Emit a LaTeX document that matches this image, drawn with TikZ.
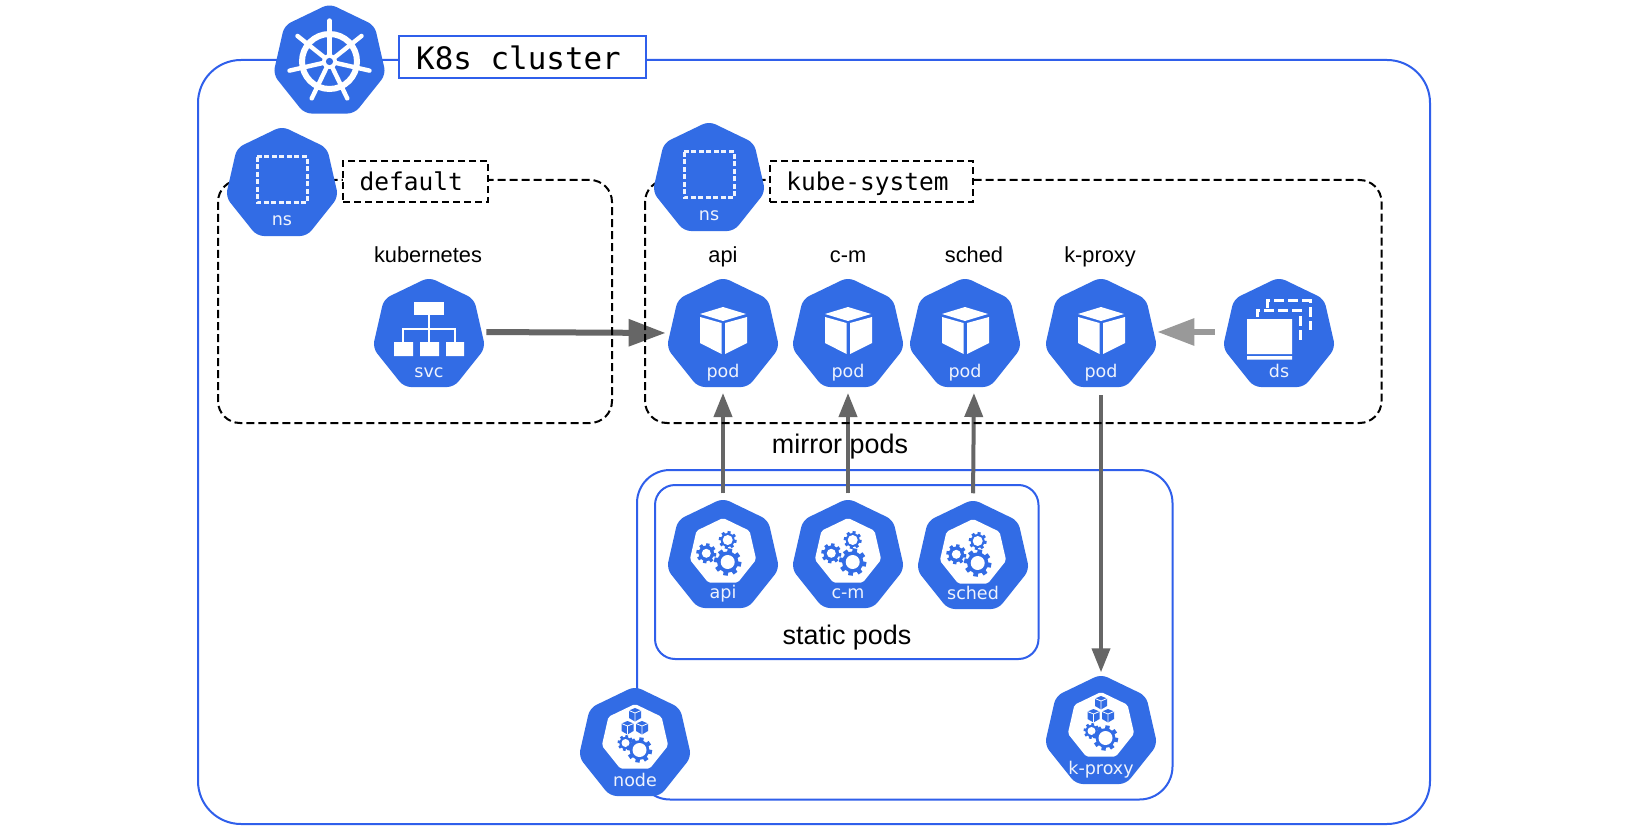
\documentclass[tikz,border=0pt]{standalone}
\usepackage{fontspec}
\usetikzlibrary{shapes.geometric,arrows.meta}
\newfontfamily\hexfont{DejaVu Sans}
\newfontfamily\boxfont{DejaVu Sans Mono}
\newfontfamily\capfont{Liberation Sans}
\definecolor{k8s}{HTML}{326CE5}
\definecolor{framecol}{HTML}{2F5FEB}
\definecolor{linkdark}{HTML}{666666}
\definecolor{linklight}{HTML}{999999}
\pgfdeclarelayer{frames}\pgfdeclarelayer{links}\pgfdeclarelayer{dashes}
\pgfsetlayers{frames,links,dashes,main}
\tikzset{
  hex/.style={regular polygon,regular polygon sides=7,minimum size=115.5pt,inner sep=0pt,outer sep=0pt,fill=k8s,rounded corners=7pt},
  hextext/.style={font=\hexfont\fontsize{17.5}{20}\selectfont,text=white!92!k8s,anchor=base,inner sep=0pt},
  frameline/.style={draw=framecol,line width=2pt},
  dashline/.style={draw=black,line width=2pt,dash pattern=on 8pt off 4pt},
  titlebox/.style={draw=framecol,line width=2pt,fill=white,minimum width=247pt,minimum height=42pt,inner sep=0pt,font=\boxfont\fontsize{30.9}{36}\selectfont},
  nsbox/.style={draw=black,line width=2pt,dash pattern=on 7pt off 4pt,fill=white,minimum height=41pt,inner sep=0pt,font=\boxfont\fontsize{24.5}{28}\selectfont},
  smallcap/.style={font=\capfont\fontsize{21.8}{24}\selectfont,inner sep=0pt,anchor=base},
  bigcap/.style={font=\capfont\fontsize{26.9}{30}\selectfont,inner sep=0pt,anchor=base},
  bigarrow/.style={line width=6pt,-{Triangle[length=37pt,width=26pt]}},
  midarrow/.style={draw=linkdark,line width=4pt,-{Triangle[length=24pt,width=18pt]}},
}
\newcommand{\kube}[5]{%
  \node[hex] (#1) at (#2,#3) {};
  \node[hextext] (#1t) at (#2,#3+42) {#4};
  \begin{scope}[shift={(#2,#3)}]#5\end{scope}}
\newcommand{\icpod}{%
  \fill[white] (0,-28)--(23,-21)--(0,-14)--(-23,-21)--cycle;
  \fill[white] (-23,-18)--(-1.5,-12)--(-1.5,19)--(-23,8)--cycle;
  \fill[white] (24,-18)--(2,-12)--(2,19)--(24,8)--cycle;}
\newcommand{\icns}{%
  \draw[white!92!k8s,line width=3pt,dash pattern=on 5pt off 2.5pt] (-25,-27) rectangle (25,19);}
\newcommand{\icsvc}{%
  \fill[white] (-15,-33) rectangle (15,-20);
  \draw[white,line width=2.5pt] (0,-20)--(0,7) (-26,7)--(-26,-6)--(26,-6)--(26,7);
  \fill[white] (-35,7) rectangle (-16,21) (-9,7) rectangle (10,21) (17,7) rectangle (35,21);}
\newcommand{\icds}{%
  \fill[white] (-32,-16) rectangle (13,19) (-32,21) rectangle (13,24.5);
  \draw[white,line width=3pt,dash pattern=on 10pt off 4pt] (-22,-18)--(-22,-25)--(21,-25)--(21,5);
  \draw[white,line width=3pt,dash pattern=on 10pt off 4pt] (-12,-27)--(-12,-34)--(31,-34)--(31,-5);}
\newcommand{\gearat}[4]{%
  \begin{scope}[shift={(#1,#2)}]
    \fill[k8s] (0,0) circle[radius=#3*0.82];
    \foreach \a in {0,45,...,315}{\draw[k8s,line width={#3*0.36pt}] (\a+10:#3*0.6)--(\a+10:#3*1.05);}
    \fill[white] (0,0) circle[radius=#4];
  \end{scope}}
\newcommand{\innerhex}[1]{%
  \fill[white,rounded corners=2pt,shift={(0,#1)}] (-90:34)--(-38.57:34)--(12.86:34)--(64.29:34)--(115.71:34)--(167.14:34)--(218.57:34)--cycle;}
\newcommand{\icgears}{%
  \innerhex{-4}
  \gearat{4.7}{-16}{8.5}{5}
  \gearat{-16.7}{-2.7}{9.5}{4.5}
  \gearat{4.7}{6}{13}{7}}
\newcommand{\smallcube}[2]{%
  \begin{scope}[shift={(#1,#2)}]
    \fill[k8s] (0,-7)--(6,-4.5)--(6,3)--(0,6.5)--(-6,3)--(-6,-4.5)--cycle;
    \draw[white,line width=0.8pt] (-6,-4.5)--(0,-2)--(6,-4.5) (0,-2)--(0,6.5);
  \end{scope}}
\newcommand{\icnode}{%
  \innerhex{-6}
  \smallcube{0}{-29}\smallcube{-7.5}{-16}\smallcube{7}{-16}
  \gearat{-9.5}{-1}{7.5}{4}
  \gearat{4.5}{6}{12}{7}}
\newcommand{\ichelm}{%
  \draw[white,line width=6pt] (0,0) circle[radius=27.5];
  \foreach \a in {0,...,6}{\draw[white,line width=4.4pt,line cap=round] (0,0)--(\a*51.43-90:41);}
  \fill[white] (0,0) circle[radius=7.5];
  \fill[k8s] (0,0) circle[radius=3.6];}
\begin{document}
\begin{tikzpicture}[x=1pt,y=-1pt]
\useasboundingbox (0,0) rectangle (1630,826);
\begin{pgfonlayer}{frames}
  \fill[white] (0,0) rectangle (1630,826);
  \draw[frameline,rounded corners=43pt] (198,60) rectangle (1430,824);
  \draw[frameline,rounded corners=33pt] (637,470) rectangle (1172.5,799.5);
  \draw[frameline,rounded corners=20pt] (655,485) rectangle (1038.5,659);
\end{pgfonlayer}
\begin{pgfonlayer}{dashes}
  \draw[dashline,rounded corners=22pt] (218,180) rectangle (612,423);
  \draw[dashline,rounded corners=22pt] (645,180) rectangle (1381.5,423);
\end{pgfonlayer}
% hexagons
\kube{cluster}{329.5}{61.5}{}{\ichelm}
\kube{nsdefault}{282}{184}{ns}{\icns}
\kube{nssystem}{709}{179}{ns}{\icns}
\kube{svc}{429}{335}{svc}{\icsvc}
\kube{podapi}{723}{335}{pod}{\icpod}
\kube{podcm}{848}{335}{pod}{\icpod}
\kube{podsched}{965}{335}{pod}{\icpod}
\kube{podproxy}{1101}{335}{pod}{\icpod}
\kube{ds}{1279}{335}{ds}{\icds}
\kube{staticapi}{723}{556}{api}{\icgears}
\kube{staticcm}{848}{556}{c-m}{\icgears}
\kube{staticsched}{973}{557}{sched}{\icgears}
\kube{node}{635}{744}{node}{\icnode}
\kube{kproxy}{1101}{732}{k-proxy}{\icnode}
% boxes
\node[titlebox] (title) at (522.5,57) {\raisebox{-13pt}[0pt][0pt]{K8s cluster}\kern 8pt};
\node[nsbox,minimum width=145pt] (defaultbox) at (415.5,181.5) {\raisebox{-9.5pt}[0pt][0pt]{default}\kern 8.4pt};
\node[nsbox,minimum width=203pt] (systembox) at (871.5,181.5) {\raisebox{-9.5pt}[0pt][0pt]{kube-system}\kern 8pt};
% captions
\node[smallcap] (capk) at (428,263) {kubernetes};
\node[smallcap] (capapi) at (723,263) {api};
\node[smallcap] (capcm) at (848,263) {c-m};
\node[smallcap] (capsched) at (974,263) {sched};
\node[smallcap] (capproxy) at (1100,263) {k-proxy};
\node[bigcap] (mirror) at (840,453) {mirror pods};
\node[bigcap] (static) at (847,644) {static pods};
% connectors
\begin{pgfonlayer}{links}
  \draw[bigarrow,draw=linkdark,fill=linkdark,shorten <=4pt,shorten >=4pt] ([yshift=3pt]svc.east) -- ([yshift=2pt]podapi.west);
  \draw[bigarrow,draw=linklight,fill=linklight,shorten <=11pt,shorten >=3pt] ([yshift=3pt]ds.west) -- ([yshift=3pt]podproxy.east);
  \draw[midarrow,fill=linkdark,shorten <=5pt,shorten >=6pt] (staticapi.north) -- (podapi.south);
  \draw[midarrow,fill=linkdark,shorten <=5pt,shorten >=6pt] (staticcm.north) -- (podcm.south);
  \draw[midarrow,fill=linkdark,shorten <=6pt,shorten >=6pt] (staticsched.north) -- ([xshift=9pt]podsched.south);
  \draw[midarrow,fill=linkdark,shorten <=8pt,shorten >=2pt] (podproxy.south) -- (kproxy.north);
\end{pgfonlayer}
\end{tikzpicture}
\end{document}
